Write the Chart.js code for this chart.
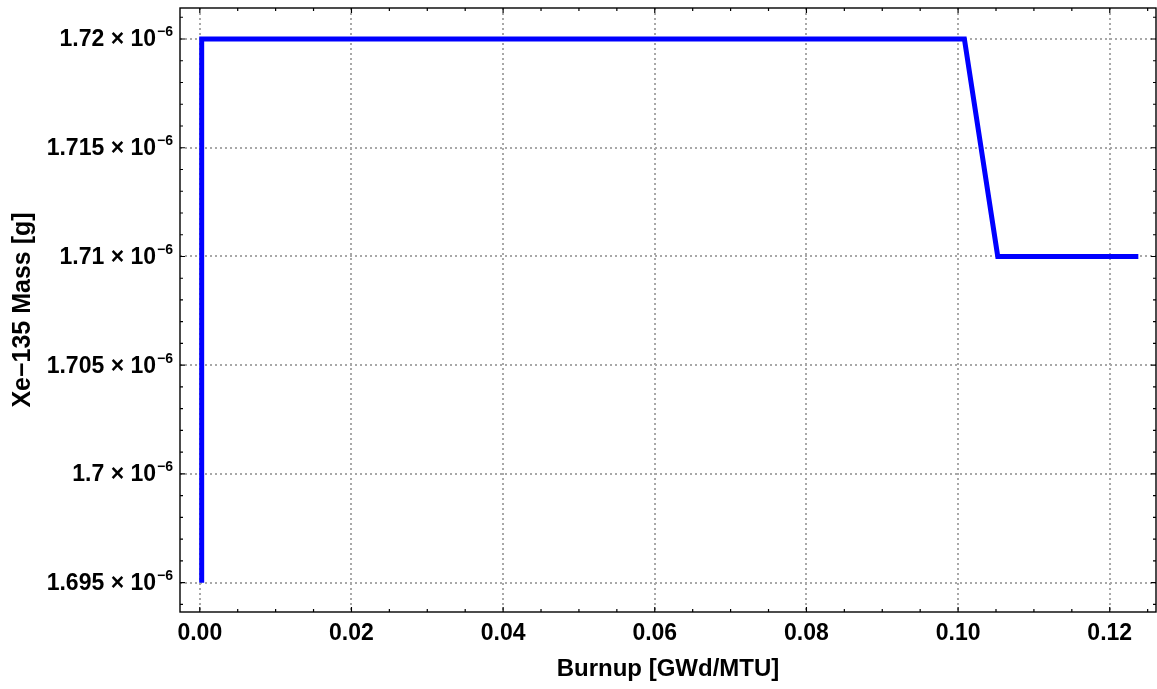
<!DOCTYPE html>
<html>
<head>
<meta charset="utf-8">
<script src="https://cdn.jsdelivr.net/npm/chart.js@4/dist/chart.umd.min.js"></script>
<style>
  html, body { margin: 0; padding: 0; background: #fff; }
  #wrap { width: 1157px; height: 689px; position: relative; }
</style>
</head>
<body>
<div id="wrap"><canvas id="c"></canvas></div>
<script>
// Xe-135 mass versus burnup
const burnup = [0.00025, 0.00025, 0.10083, 0.10523, 0.12377];          // GWd/MTU
const xeMass = [1.695e-6, 1.72e-6, 1.72e-6, 1.71e-6, 1.71e-6];          // g

const xMajorTicks = [0.00, 0.02, 0.04, 0.06, 0.08, 0.10, 0.12];
const yMajorTicks = [1.695e-6, 1.7e-6, 1.705e-6, 1.71e-6, 1.715e-6, 1.72e-6];
const yTickMantissa = ['1.695', '1.7', '1.705', '1.71', '1.715', '1.72'];
const yTickExponent = '\u22126';

const xMinorStep = 0.005;
const yMinorStep = 0.001e-6;

const FONT = '"Liberation Sans", Arial, sans-serif';

// Frame, inward tick marks and scientific-notation y labels
const framePlugin = {
  id: 'frame',
  afterDraw(chart) {
    const { ctx, chartArea: a, scales: { x, y } } = chart;
    ctx.save();
    ctx.strokeStyle = '#000';
    ctx.lineWidth = 1.4;
    ctx.strokeRect(a.left, a.top, a.right - a.left, a.bottom - a.top);

    ctx.lineWidth = 1.2;
    const isMajor = (v, list, eps) => list.some(t => Math.abs(t - v) < eps);
    // x ticks (bottom and top)
    const m0 = Math.ceil(x.min / xMinorStep), m1 = Math.floor(x.max / xMinorStep);
    for (let n = m0; n <= m1; n++) {
      const val = n * xMinorStep;
      const px = x.getPixelForValue(val);
      const len = isMajor(val, xMajorTicks, 1e-6) ? 5 : 3;
      ctx.beginPath();
      ctx.moveTo(px, a.bottom); ctx.lineTo(px, a.bottom - len);
      ctx.moveTo(px, a.top); ctx.lineTo(px, a.top + len);
      ctx.stroke();
    }
    // y ticks (left and right)
    const n0 = Math.ceil(y.min / yMinorStep), n1 = Math.floor(y.max / yMinorStep);
    for (let n = n0; n <= n1; n++) {
      const val = n * yMinorStep;
      const py = y.getPixelForValue(val);
      const len = isMajor(val, yMajorTicks, 1e-12) ? 5 : 3;
      ctx.beginPath();
      ctx.moveTo(a.left, py); ctx.lineTo(a.left + len, py);
      ctx.moveTo(a.right, py); ctx.lineTo(a.right - len, py);
      ctx.stroke();
    }

    // y labels: mantissa × 10^exponent
    ctx.fillStyle = '#000';
    const rightEdge = a.left - 7;
    yMajorTicks.forEach((v, i) => {
      const py = y.getPixelForValue(v);
      ctx.font = 'bold 14px ' + FONT;
      ctx.textAlign = 'right';
      ctx.textBaseline = 'alphabetic';
      const expW = ctx.measureText(yTickExponent).width;
      ctx.fillText(yTickExponent, rightEdge, py - 2.5);
      ctx.font = 'bold 23px ' + FONT;
      ctx.textBaseline = 'middle';
      ctx.fillText(yTickMantissa[i] + ' \u00d7 10', rightEdge - expW - 1, py + 1);
    });
    ctx.restore();
  }
};

new Chart(document.getElementById('c'), {
  type: 'scatter',
  data: {
    datasets: [{
      data: burnup.map((b, i) => ({ x: b, y: xeMass[i] })),
      showLine: true,
      borderColor: '#0000ff',
      backgroundColor: '#0000ff',
      borderWidth: 5,
      pointRadius: 0,
      tension: 0,
      borderJoinStyle: 'miter',
      borderCapStyle: 'butt'
    }]
  },
  options: {
    responsive: true,
    maintainAspectRatio: false,
    animation: false,
    layout: { padding: { left: 0, top: 8, right: 1, bottom: 0 } },
    plugins: { legend: { display: false }, tooltip: { enabled: false } },
    scales: {
      x: {
        type: 'linear',
        min: -0.00261,
        max: 0.1261,
        afterBuildTicks: s => { s.ticks = xMajorTicks.map(v => ({ value: v })); },
        afterFit: s => { s.height = 77; },
        ticks: {
          callback: v => v.toFixed(2),
          font: { family: FONT, size: 23, weight: 'bold' },
          color: '#000',
          padding: 8,
          maxRotation: 0
        },
        grid: { color: '#a8a8a8', lineWidth: 2, drawTicks: false },
        border: { display: false, dash: [2, 3] },
        title: {
          display: true,
          text: 'Burnup [GWd/MTU]',
          font: { family: FONT, size: 24, weight: 'bold' },
          color: '#000',
          padding: { top: 0, bottom: 5 }
        }
      },
      y: {
        type: 'linear',
        min: 1.693653e-6,
        max: 1.721425e-6,
        afterBuildTicks: s => { s.ticks = yMajorTicks.map(v => ({ value: v })); },
        afterFit: s => { s.width = 180; },
        ticks: { display: false },
        grid: { color: '#a8a8a8', lineWidth: 2, drawTicks: false },
        border: { display: false, dash: [2, 3] },
        title: {
          display: true,
          text: 'Xe\u2212135 Mass [g]',
          font: { family: FONT, size: 25, weight: 'bold' },
          color: '#000',
          padding: { top: 8, bottom: 0 }
        }
      }
    }
  },
  plugins: [framePlugin]
});
</script>
</body>
</html>
